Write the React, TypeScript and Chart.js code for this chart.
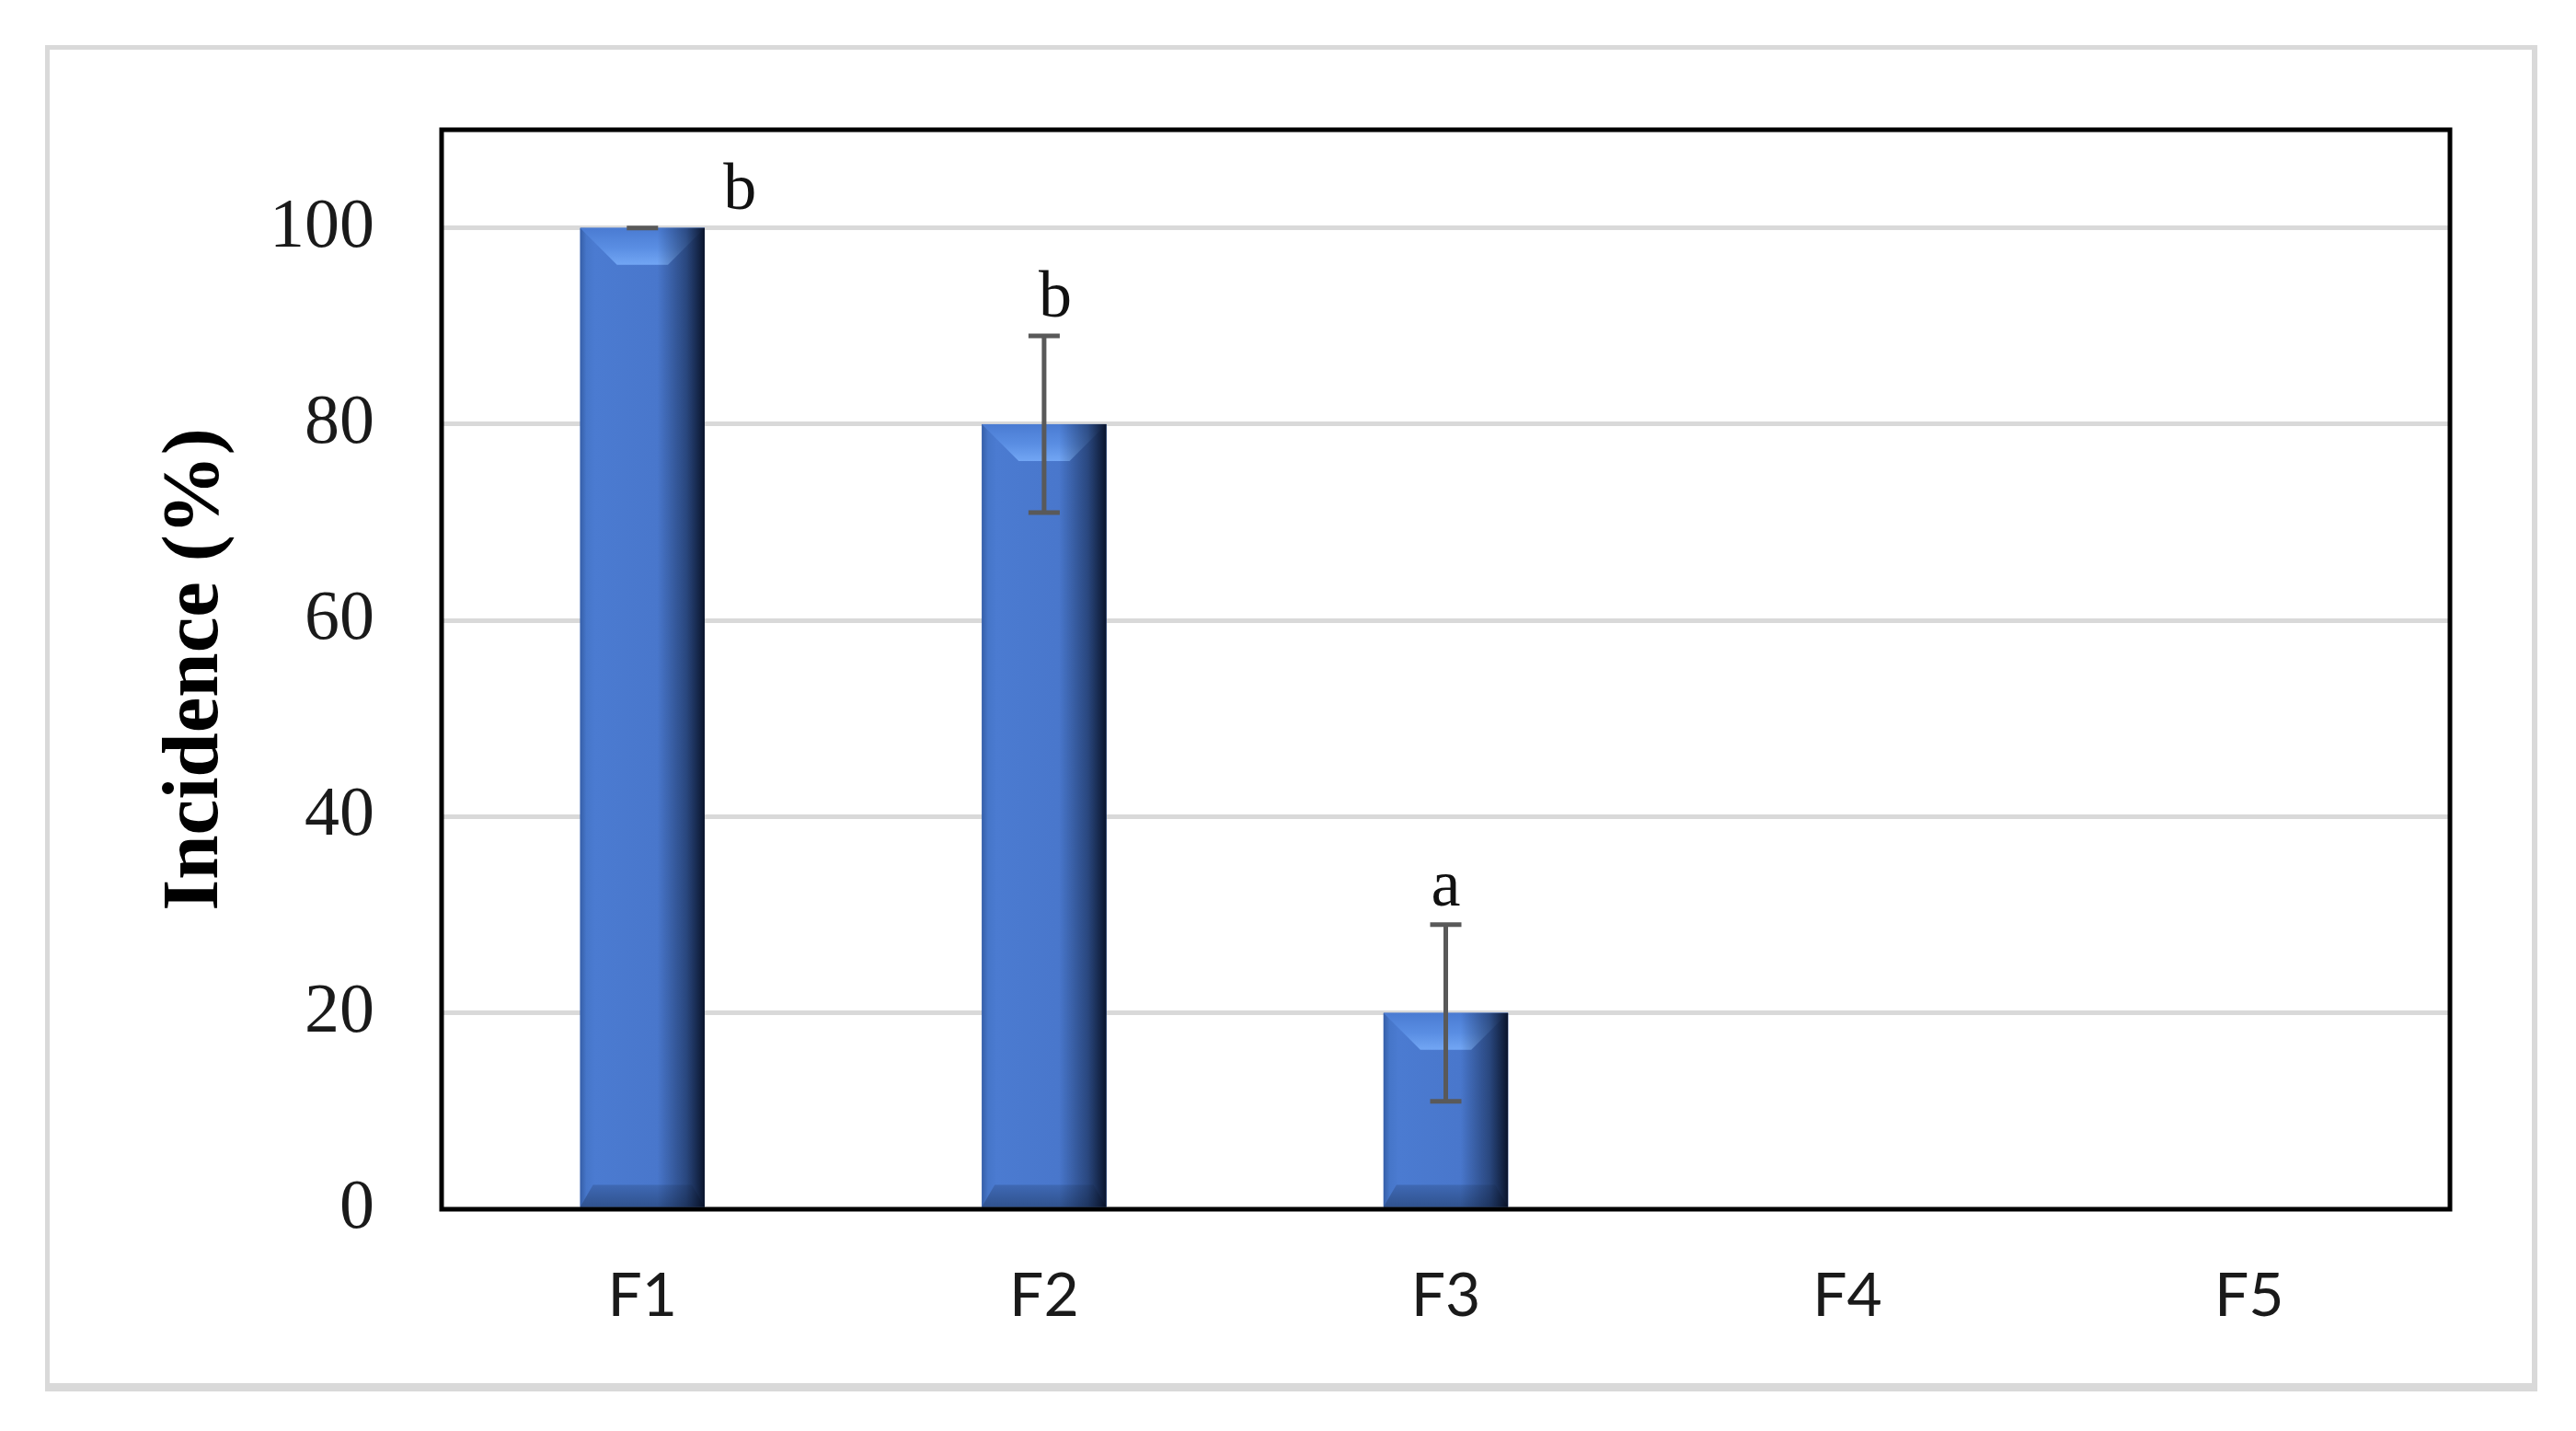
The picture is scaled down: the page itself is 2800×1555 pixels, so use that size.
import React, { useEffect, useRef } from 'react';
import { Chart, registerables } from 'chart.js';

Chart.register(...registerables);

// ---- data ----
const categories = ['F1', 'F2', 'F3', 'F4', 'F5'];
const incidence = [100, 80, 20, 0, 0];
const stdErrors: (number | null)[] = [0, 9, 9, null, null];
const sigLetters = ['b', 'b', 'a', '', ''];
const yTickValues = [0, 20, 40, 60, 80, 100];

// ---- style (not data) ----
const letterOffsetX = [106, 12, 0, 0, 0];

const decorPlugin = {
  id: 'decor',
  afterDatasetsDraw(chart: any) {
    const { ctx, chartArea, scales } = chart;
    const meta = chart.getDatasetMeta(0);
    meta.data.forEach((el: any) => {
      const { x, y, base, width } = el.getProps(['x', 'y', 'base', 'width'], true);
      const h = base - y;
      if (h < 1) return;
      const x0 = x - width / 2;
      const x1 = x + width / 2;
      ctx.save();
      // body shading
      const g = ctx.createLinearGradient(x0, 0, x1, 0);
      g.addColorStop(0, '#365fa8');
      g.addColorStop(0.05, '#4676c9');
      g.addColorStop(0.12, '#4b7bd1');
      g.addColorStop(0.6, '#4977cc');
      g.addColorStop(1, '#4472c4');
      ctx.fillStyle = g;
      ctx.fillRect(x0, y, width, h);
      const d = Math.min(40, h / 3);
      const inset = Math.min(40, width / 2 - 4);
      // top bevel
      const gt = ctx.createLinearGradient(0, y, 0, y + d);
      gt.addColorStop(0, '#4a7bd2');
      gt.addColorStop(0.55, '#5a8ee3');
      gt.addColorStop(1, '#72a6f4');
      ctx.fillStyle = gt;
      ctx.beginPath();
      ctx.moveTo(x0, y);
      ctx.lineTo(x1, y);
      ctx.lineTo(x1 - inset, y + d);
      ctx.lineTo(x0 + inset, y + d);
      ctx.closePath();
      ctx.fill();
      // bottom bevel
      const db = Math.min(24, h / 4);
      const ib = 14;
      const gb = ctx.createLinearGradient(0, base - db, 0, base);
      gb.addColorStop(0, '#3f69b4');
      gb.addColorStop(1, '#30528f');
      ctx.fillStyle = gb;
      ctx.beginPath();
      ctx.moveTo(x0, base);
      ctx.lineTo(x1, base);
      ctx.lineTo(x1 - ib, base - db);
      ctx.lineTo(x0 + ib, base - db);
      ctx.closePath();
      ctx.fill();
      // right darkening
      const gr = ctx.createLinearGradient(x0, 0, x1, 0);
      gr.addColorStop(0, 'rgba(8,18,40,0)');
      gr.addColorStop(0.62, 'rgba(8,18,40,0)');
      gr.addColorStop(0.85, 'rgba(8,18,40,0.45)');
      gr.addColorStop(1, 'rgba(5,12,30,0.92)');
      ctx.fillStyle = gr;
      ctx.fillRect(x0, y, width, h);
      ctx.restore();
    });

    // plot frame
    ctx.save();
    ctx.strokeStyle = '#000000';
    ctx.lineWidth = 5;
    ctx.strokeRect(chartArea.left, chartArea.top, chartArea.right - chartArea.left, chartArea.bottom - chartArea.top);
    ctx.restore();

    // error bars and letters
    const ys = scales.y;
    meta.data.forEach((el: any, i: number) => {
      const err = stdErrors[i];
      if (err === null || err === undefined) return;
      const v = incidence[i];
      const x = el.x;
      const yTop = ys.getPixelForValue(v + err);
      const yBot = ys.getPixelForValue(Math.max(0, v - err));
      ctx.save();
      ctx.strokeStyle = '#595959';
      ctx.lineWidth = 5;
      ctx.beginPath();
      ctx.moveTo(x, yTop);
      ctx.lineTo(x, yBot);
      ctx.moveTo(x - 17, yTop);
      ctx.lineTo(x + 17, yTop);
      ctx.moveTo(x - 17, yBot);
      ctx.lineTo(x + 17, yBot);
      ctx.stroke();
      if (sigLetters[i]) {
        ctx.fillStyle = '#111111';
        ctx.font = '72px "Liberation Serif"';
        ctx.textAlign = 'center';
        ctx.textBaseline = 'alphabetic';
        ctx.fillText(sigLetters[i], x + letterOffsetX[i], yTop - 21);
      }
      ctx.restore();
    });
  },
};

export default function App() {
  const ref = useRef<HTMLCanvasElement | null>(null);
  useEffect(() => {
    if (!ref.current) return;
    document.body.style.overflow = 'hidden';
    const chart = new Chart(ref.current, {
      type: 'bar',
      data: {
        labels: categories,
        datasets: [
          {
            data: incidence,
            backgroundColor: '#4472c4',
            borderWidth: 0,
            categoryPercentage: 1,
            barPercentage: 0.31,
          },
        ],
      },
      options: {
        animation: false,
        responsive: false,
        devicePixelRatio: 1,
        layout: { padding: { left: 0, top: 141, right: 137, bottom: 0 } },
        plugins: { legend: { display: false }, tooltip: { enabled: false } },
        scales: {
          x: {
            grid: { display: false },
            border: { display: false },
            ticks: {
              color: '#1a1a1a',
              font: { family: 'Lato', size: 66 },
              padding: 47,
            },
            afterFit: (s: any) => {
              s.height = 241;
            },
          },
          y: {
            min: 0,
            max: 110,
            afterBuildTicks: (s: any) => {
              s.ticks = yTickValues.map((v) => ({ value: v }));
            },
            grid: {
              color: (c: any) => (c.tick && c.tick.value === 0 ? 'rgba(0,0,0,0)' : '#d9d9d9'),
              lineWidth: 5,
              drawTicks: false,
            },
            border: { display: false },
            ticks: {
              color: '#1a1a1a',
              font: { family: 'Liberation Serif', size: 76 },
              padding: 73,
            },
            title: {
              display: true,
              text: 'Incidence (%)',
              color: '#000000',
              font: { family: 'Liberation Serif', size: 87, weight: 'bold' },
              padding: { top: 161, bottom: 0 },
            },
            afterFit: (s: any) => {
              s.width = 480;
            },
          },
        },
      },
      plugins: [decorPlugin],
    });
    return () => chart.destroy();
  }, []);

  return (
    <div style={{ position: 'absolute', left: 0, top: 0, width: 2800, height: 1555, background: '#ffffff' }}>
      <div
        style={{
          position: 'absolute',
          left: 49,
          top: 49,
          width: 2709,
          height: 1463,
          boxSizing: 'border-box',
          borderStyle: 'solid',
          borderColor: '#d9d9d9',
          borderWidth: '5px 6px 9px 5px',
        }}
      />
      <canvas ref={ref} width={2800} height={1555} style={{ position: 'absolute', left: 0, top: 0 }} />
    </div>
  );
}
